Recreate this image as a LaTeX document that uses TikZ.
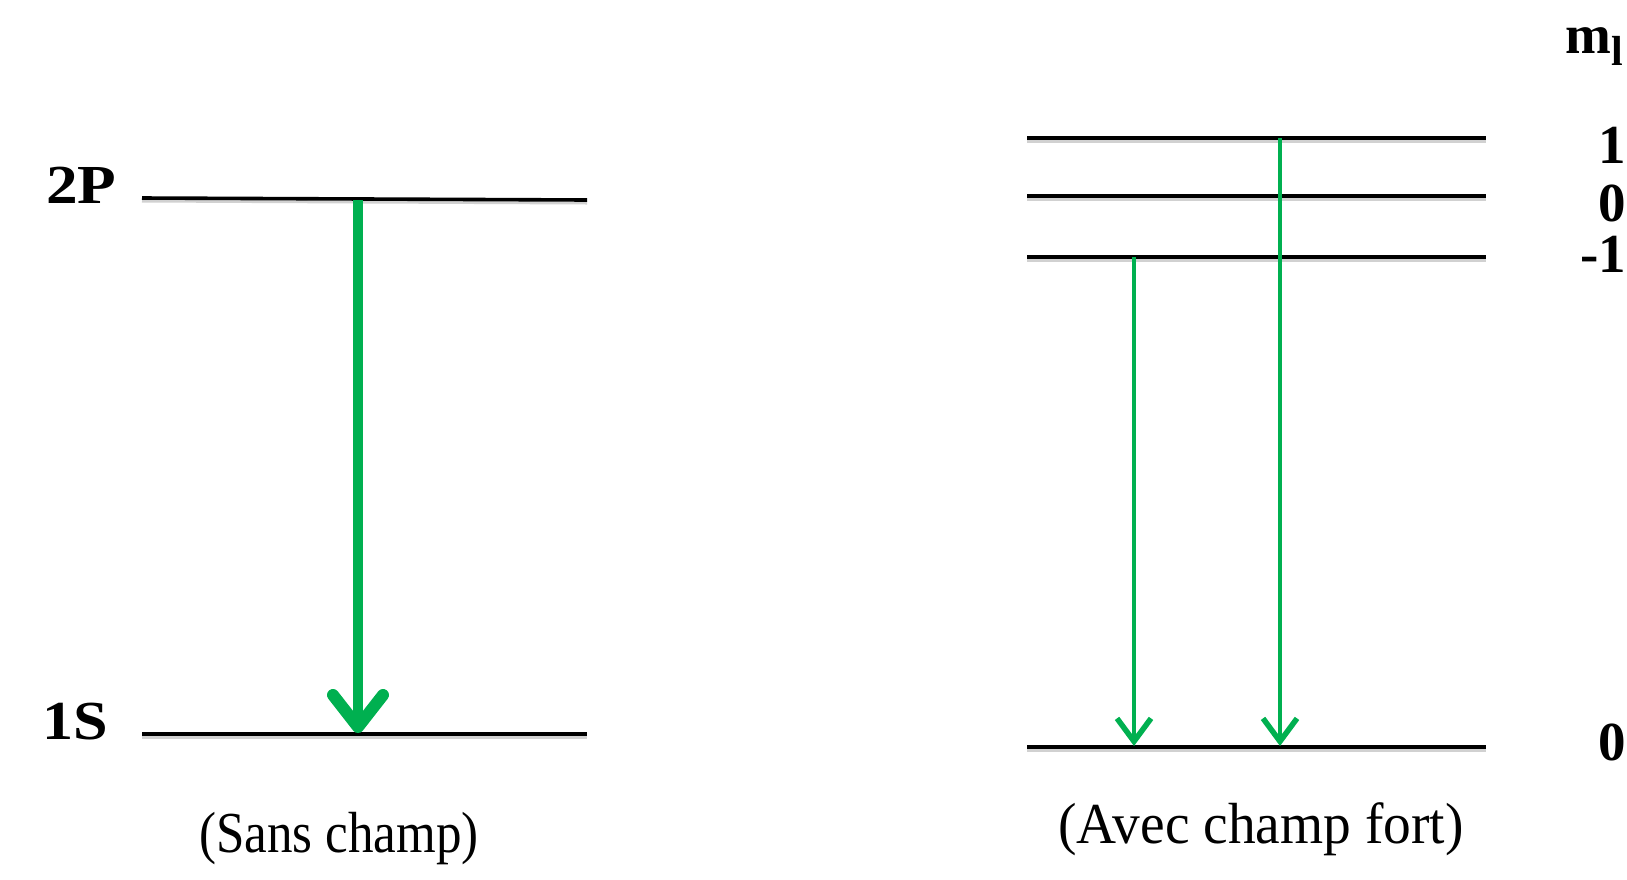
\documentclass[tikz,border=0pt]{standalone}
\usepackage{fontspec}
\setmainfont{Liberation Serif}
\usetikzlibrary{arrows.meta}
\definecolor{lvlgreen}{RGB}{0,176,80}
\tikzset{
  level/.style={line width=3.6pt, black},
  levelshadow/.style={line width=3pt, black!18},
  bigarrow/.style={line width=10pt, lvlgreen, -{Straight Barb[length=32pt,width=50pt,line width=12pt,round]}},
  thinarrow/.style={line width=3.8pt, lvlgreen, -{Straight Barb[length=23pt,width=34pt,line width=5.5pt]}},
  statelbl/.style={font=\fontsize{55}{60}\selectfont\bfseries, inner sep=0pt},
  mllbl/.style={font=\fontsize{55}{60}\selectfont\bfseries, inner sep=0pt, anchor=base east},
  caption/.style={font=\fontsize{58}{62}\selectfont, inner sep=0pt, anchor=base}
}
\begin{document}
\begin{tikzpicture}[x=1pt,y=-1pt]
\useasboundingbox (0,0) rectangle (1627,879);
% left diagram
\coordinate (p2a) at (142,198);
\coordinate (p2b) at (587,200);
\coordinate (s1a) at (142,734);
\coordinate (s1b) at (587,734);
\draw[levelshadow] ([yshift=-3pt]p2a) -- ([yshift=-3pt]p2b);
\draw[levelshadow] ([yshift=-3pt]s1a) -- ([yshift=-3pt]s1b);
\draw[level] (p2a) -- (p2b);
\draw[level] (s1a) -- (s1b);
\coordinate (bigtop) at (358,200);
\coordinate (bigbot) at (358,733);
\draw[bigarrow] (bigtop) -- (bigbot);
\node[statelbl, anchor=base west, xscale=1.15] (l2p) at (46,203) {2P};
\node[statelbl, anchor=base west, xscale=1.13] (l1s) at (42,739) {1S};
\node[caption, xscale=0.88] (capl) at (339,852) {(Sans champ)};
% right diagram
\coordinate (r1a) at (1027,138);
\coordinate (r1b) at (1486,138);
\coordinate (r0a) at (1027,196);
\coordinate (r0b) at (1486,196);
\coordinate (rma) at (1027,257);
\coordinate (rmb) at (1486,257);
\coordinate (rga) at (1027,747);
\coordinate (rgb) at (1486,747);
\foreach \a/\b in {r1a/r1b,r0a/r0b,rma/rmb,rga/rgb}{
  \draw[levelshadow] ([yshift=-3pt]\a) -- ([yshift=-3pt]\b);
}
\foreach \a/\b in {r1a/r1b,r0a/r0b,rma/rmb,rga/rgb}{
  \draw[level] (\a) -- (\b);
}
\coordinate (ta1) at (1134,257);
\coordinate (tb1) at (1134,746);
\coordinate (ta2) at (1280,138);
\coordinate (tb2) at (1280,746);
\draw[thinarrow] (ta1) -- (tb1);
\draw[thinarrow] (ta2) -- (tb2);
\node[caption, xscale=0.955] (capr) at (1261,843) {(Avec champ fort)};
% m_l labels
\node[statelbl, anchor=base west] (ml) at (1565,53) {m\raisebox{-0.22em}{\fontsize{42}{44}\selectfont l}};
\node[mllbl] (m1) at (1626,163) {1};
\node[mllbl] (m0) at (1626,221) {0};
\node[mllbl] (mm1) at (1626,272) {-1};
\node[mllbl] (g0) at (1626,760) {0};
\end{tikzpicture}
\end{document}
